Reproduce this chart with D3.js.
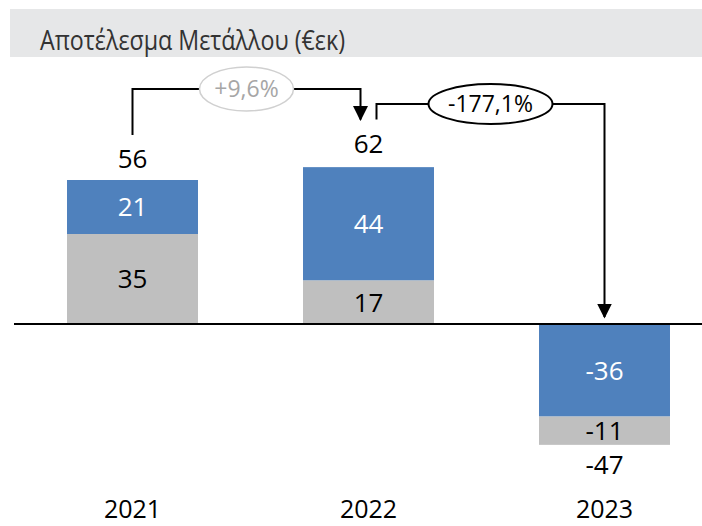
<!DOCTYPE html>
<html>
<head>
<meta charset="utf-8">
<script src="https://cdn.jsdelivr.net/npm/d3@7"></script>
<style>
  body { margin: 0; background: #fff; }
  text { font-family: "Open Sans", "Noto Sans", sans-serif; }
</style>
</head>
<body>
<script>
var width = 702;
var height = 526;

// data
var years = ["2021", "2022", "2023"];
var grayVals = [35, 17, -11];
var blueVals = [21, 44, -36];
var totals = [56, 62, -47];
var changeLabels = ["+9,6%", "-177,1%"];
var title = "Αποτέλεσμα Μετάλλου (€εκ)";

var blue = "#4f81bd";
var gray = "#bfbfbf";

var svg = d3.select("body").append("svg")
  .attr("width", width)
  .attr("height", height);

// title bar
svg.append("rect")
  .attr("x", 10).attr("y", 9)
  .attr("width", width - 10).attr("height", 48)
  .attr("fill", "#e6e7e8");
svg.append("text")
  .attr("x", 40).attr("y", 50)
  .attr("font-size", "27px")
  .attr("textLength", 305)
  .attr("lengthAdjust", "spacingAndGlyphs")
  .attr("fill", "#333")
  .text(title);

var x = d3.scaleBand()
  .domain(years)
  .range([14.5, 722.5])
  .paddingInner(0.445)
  .paddingOuter(0.2225);

var y = d3.scaleLinear()
  .domain([-60, 100])
  .range([324 + 60 * 144 / 56, 324 - 100 * 144 / 56]);

// stacked segments: gray first, blue on top (negatives: blue next to zero)
var segs = [];
years.forEach(function (yr, i) {
  var g = grayVals[i], b = blueVals[i];
  if (g >= 0) {
    segs.push({ year: yr, y0: 0, y1: g, color: gray, val: g, txt: "#000" });
    segs.push({ year: yr, y0: g, y1: g + b, color: blue, val: b, txt: "#fff" });
  } else {
    segs.push({ year: yr, y0: 0, y1: b, color: blue, val: b, txt: "#fff" });
    segs.push({ year: yr, y0: b, y1: b + g, color: gray, val: g, txt: "#000" });
  }
});

svg.selectAll("rect.seg")
  .data(segs)
  .enter()
  .append("rect")
  .attr("class", "seg")
  .attr("x", function (d) { return x(d.year); })
  .attr("width", x.bandwidth())
  .attr("y", function (d) { return y(Math.max(d.y0, d.y1)); })
  .attr("height", function (d) { return Math.abs(y(d.y0) - y(d.y1)); })
  .attr("fill", function (d) { return d.color; });

svg.selectAll("text.seglabel")
  .data(segs)
  .enter()
  .append("text")
  .attr("class", "seglabel")
  .attr("x", function (d) { return x(d.year) + x.bandwidth() / 2; })
  .attr("y", function (d) { return y((d.y0 + d.y1) / 2); })
  .attr("dy", "0.36em")
  .attr("text-anchor", "middle")
  .attr("font-size", "26px")
  .attr("fill", function (d) { return d.txt; })
  .text(function (d) { return d.val; });

// zero line
svg.append("line")
  .attr("x1", 14).attr("x2", width)
  .attr("y1", y(0)).attr("y2", y(0))
  .attr("stroke", "#000")
  .attr("stroke-width", 2);

// totals
svg.selectAll("text.total")
  .data(totals)
  .enter()
  .append("text")
  .attr("class", "total")
  .attr("x", function (d, i) { return x(years[i]) + x.bandwidth() / 2; })
  .attr("y", function (d) { return d >= 0 ? y(d) - 12 : y(d) + 29; })
  .attr("text-anchor", "middle")
  .attr("font-size", "26px")
  .attr("fill", "#000")
  .text(function (d) { return d; });

// years
svg.selectAll("text.year")
  .data(years)
  .enter()
  .append("text")
  .attr("class", "year")
  .attr("x", function (d) { return x(d) + x.bandwidth() / 2; })
  .attr("y", 518)
  .attr("text-anchor", "middle")
  .attr("font-size", "25px")
  .attr("fill", "#000")
  .text(function (d) { return d; });

// arrowhead
svg.append("defs").append("marker")
  .attr("id", "arrow")
  .attr("viewBox", "0 0 10 10")
  .attr("refX", 9).attr("refY", 5)
  .attr("markerWidth", 15).attr("markerHeight", 15)
  .attr("markerUnits", "userSpaceOnUse")
  .attr("orient", "auto")
  .append("path")
  .attr("d", "M0,0 L10,5 L0,10 Z")
  .attr("fill", "#000");

function cx(i) { return x(years[i]) + x.bandwidth() / 2; }

// connector 2021 -> 2022
var c1 = { x0: cx(0), yStart: y(totals[0]) - 45, yTop: 89, x1: cx(1) - 8, yEnd: y(totals[1]) - 45 };
svg.append("path")
  .attr("d", "M" + c1.x0 + "," + c1.yStart + " V" + c1.yTop + " H" + c1.x1 + " V" + c1.yEnd)
  .attr("fill", "none")
  .attr("stroke", "#000")
  .attr("stroke-width", 2)
  .attr("marker-end", "url(#arrow)");

// connector 2022 -> 2023
var c2 = { x0: cx(1) + 8, yStart: y(totals[1]) - 45, yTop: 104, x1: cx(2), yEnd: y(0) - 7 };
svg.append("path")
  .attr("d", "M" + c2.x0 + "," + c2.yStart + " V" + c2.yTop + " H" + c2.x1 + " V" + c2.yEnd)
  .attr("fill", "none")
  .attr("stroke", "#000")
  .attr("stroke-width", 2)
  .attr("marker-end", "url(#arrow)");

// change bubbles
var bubbles = [
  { cx: (c1.x0 + c1.x1) / 2, cy: c1.yTop, rx: 47, ry: 22, stroke: "#d0d0d0", sw: 1.5, txt: "#a6a6a6", label: changeLabels[0] },
  { cx: (c2.x0 + c2.x1) / 2, cy: c2.yTop, rx: 62, ry: 20, stroke: "#000", sw: 2, txt: "#000", label: changeLabels[1] }
];
svg.selectAll("ellipse.bub")
  .data(bubbles)
  .enter()
  .append("ellipse")
  .attr("class", "bub")
  .attr("cx", function (d) { return d.cx; })
  .attr("cy", function (d) { return d.cy; })
  .attr("rx", function (d) { return d.rx; })
  .attr("ry", function (d) { return d.ry; })
  .attr("fill", "#fff")
  .attr("stroke", function (d) { return d.stroke; })
  .attr("stroke-width", function (d) { return d.sw; });
svg.selectAll("text.bub")
  .data(bubbles)
  .enter()
  .append("text")
  .attr("class", "bub")
  .attr("x", function (d) { return d.cx; })
  .attr("y", function (d) { return d.cy; })
  .attr("dy", "0.36em")
  .attr("text-anchor", "middle")
  .attr("font-size", "23px")
  .attr("fill", function (d) { return d.txt; })
  .text(function (d) { return d.label; });
</script>
</body>
</html>
